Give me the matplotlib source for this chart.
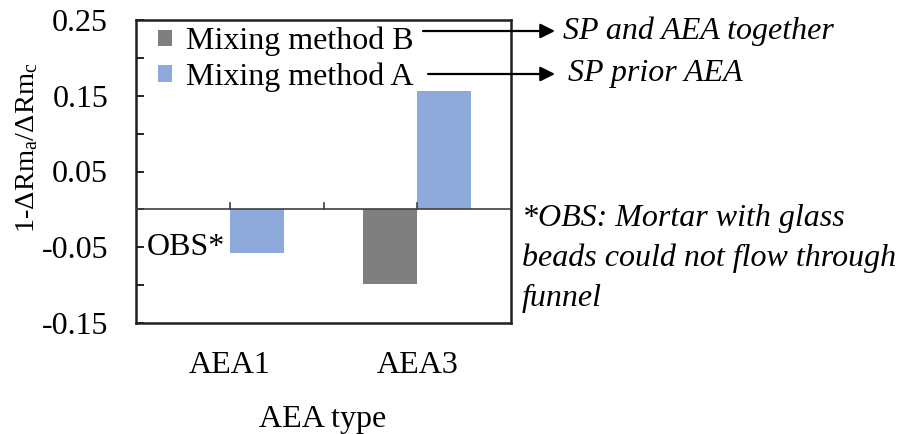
import matplotlib
matplotlib.use("Agg")
import matplotlib.pyplot as plt
import numpy as np

categories = ["AEA1", "AEA3"]
method_B = [np.nan, -0.099]
method_A = [-0.058, 0.156]
series_names = ["Mixing method B", "Mixing method A"]
colors = ["#7f7f7f", "#8eaadb"]
ytick_vals = [0.25, 0.2, 0.15, 0.1, 0.05, 0.0, -0.05, -0.1, -0.15]
ytick_labels = ["0.25", "", "0.15", "", "0.05", "", "-0.05", "", "-0.15"]

plt.rcParams['font.family'] = ['Liberation Serif', 'DejaVu Serif']
plt.rcParams['mathtext.fontset'] = 'custom'
plt.rcParams['mathtext.rm'] = 'Liberation Serif'
plt.rcParams['mathtext.it'] = 'Liberation Serif:italic'

FS = 23
W, H = 914, 434
fig = plt.figure(figsize=(W/100, H/100), dpi=100)
ax = fig.add_axes([136/W, 1-323/H, (511-136)/W, (323-20)/H])

xpos = np.array([1, 3])
bw = 0.575
ax.bar(xpos - bw/2, method_B, width=bw, color=colors[0], label=series_names[0], zorder=2)
ax.bar(xpos + bw/2, method_A, width=bw, color=colors[1], label=series_names[1], zorder=2)

ax.set_xlim(0, 4)
ax.set_ylim(-0.15, 0.25)
ax.axhline(0, color='#404040', lw=1.2, zorder=3)
for xt in [1, 2, 3]:
    ax.plot([xt, xt], [0, 0.008], color='#404040', lw=1.2, zorder=3, clip_on=False)

ax.set_yticks(ytick_vals)
ax.set_yticklabels(ytick_labels, fontsize=FS)
ax.tick_params(axis='y', direction='in', length=6, width=1.2, pad=20)
ax.set_xticks(xpos)
ax.set_xticklabels(categories, fontsize=FS)
ax.tick_params(axis='x', length=0, pad=20)
for s in ax.spines.values():
    s.set_linewidth(1.8)
    s.set_color('#202020')

def fx(x): return x / W
def fy(y): return 1 - y / H

fig.text(fx(323), fy(427), "AEA type", fontsize=FS, ha='center', va='baseline')
fig.text(fx(14), fy(148), r'1-$\Delta$Rm$_\mathregular{a}$/$\Delta$Rm$_\mathregular{c}$',
         fontsize=20.5, rotation=90, ha='left', va='center')

leg = ax.legend(loc='upper left', bbox_to_anchor=(0.025, 1.02), frameon=False, fontsize=FS,
                handlelength=0.42, handleheight=0.42, handletextpad=0.45, labelspacing=0.2,
                borderaxespad=0)

ax.text(0.12, -0.05, "OBS*", fontsize=FS, va='center', ha='left')

for (x0, y0, x1, txt, tx) in [(423, 31, 555, "SP and AEA together", 563),
                               (428, 74, 555, "SP prior AEA", 568)]:
    fig.add_artist(matplotlib.patches.FancyArrowPatch((fx(x0), fy(y0)), (fx(x1), fy(y0)),
                   transform=fig.transFigure, arrowstyle='-|>', mutation_scale=22,
                   color='black', lw=1.6, shrinkA=0, shrinkB=0))
    fig.text(fx(tx), fy(y0), txt, fontsize=FS, style='italic', va='center', ha='left')

note = ["*OBS: Mortar with glass", "beads could not flow through", "funnel"]
for i, line in enumerate(note):
    fig.text(fx(522), fy(218 + 40*i), line, fontsize=FS, style='italic', va='center', ha='left')

fig.savefig("out.png", dpi=100)
